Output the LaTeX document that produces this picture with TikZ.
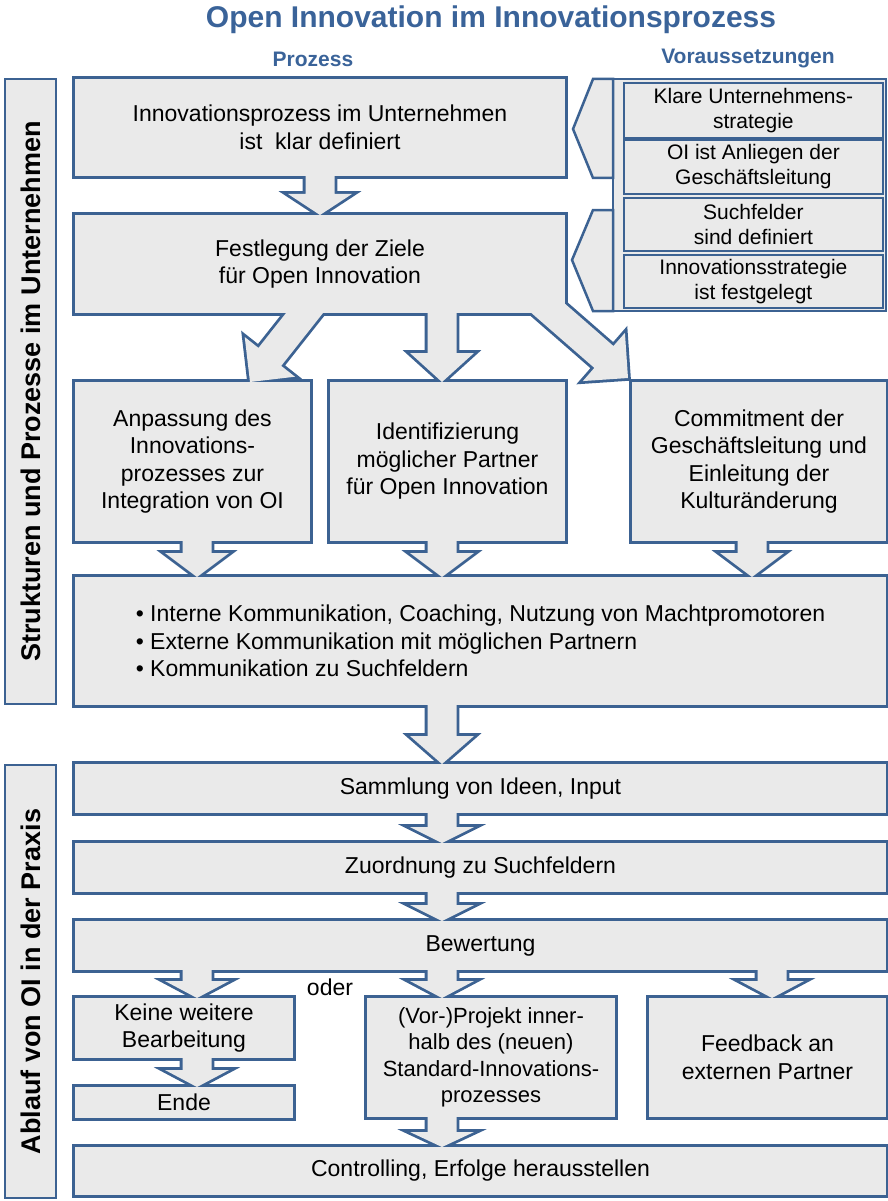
\documentclass[tikz,border=0pt]{standalone}
\usepackage{fontspec}
\setmainfont{Liberation Sans}
\usetikzlibrary{calc}
\pgfdeclarelayer{lines}
\pgfdeclarelayer{fills}
\pgfsetlayers{lines,fills,main}
\definecolor{oiblue}{RGB}{60,98,146}
\definecolor{oititle}{RGB}{58,99,153}
\definecolor{oigray}{RGB}{234,234,234}
\tikzset{
  outline/.style={draw=oiblue, line width=5.6pt, line join=miter},
  boxfill/.style={fill=oigray},
  stage/.style={anchor=north west, inner sep=0pt, outer sep=0pt, align=center,
    font=\fontsize{23}{27.5}\selectfont},
  sidebox/.style={draw=oiblue, fill=oigray, line width=2.8pt, inner sep=0pt, rotate=90,
    font=\bfseries\fontsize{27}{32}\selectfont},
  heading/.style={text=oititle, font=\bfseries\fontsize{21}{25}\selectfont},
  cond/.style={draw=oiblue, fill=oigray, line width=1.8pt, anchor=north west, inner sep=0pt,
    minimum width=259, align=center, font=\fontsize{21}{25}\selectfont},
  chevron/.style={draw=oiblue, fill=oigray, line width=2.5pt, line join=miter},
}
\newcommand{\stemw}{14.5pt}
\newcommand{\headw}{32pt}
% block arrow: name, start, tip, head length
\newcommand{\blockarrow}[4]{%
  \coordinate (#1s) at #2;
  \coordinate (#1t) at #3;
  \coordinate (#1h) at ($(#1t)!#4pt!(#1s)$);
  \def\arrowshape{($(#1s)!\stemw!90:(#1t)$) -- ($(#1h)!\stemw!90:(#1t)$)
    -- ($(#1h)!\headw!90:(#1t)$) -- (#1t) -- ($(#1h)!\headw!-90:(#1t)$)
    -- ($(#1h)!\stemw!-90:(#1t)$) -- ($(#1s)!\stemw!-90:(#1t)$) -- cycle}%
  \begin{pgfonlayer}{lines}\draw[outline] \arrowshape;\end{pgfonlayer}
  \begin{pgfonlayer}{fills}\fill[boxfill] \arrowshape;\end{pgfonlayer}
}
\begin{document}
\begin{tikzpicture}[x=1pt, y=-1pt]
\useasboundingbox (0,0) rectangle (888,1201);
% headings
\node[text=oititle, font=\bfseries\fontsize{30}{36}\selectfont] (title) at (491,20) {Open Innovation im Innovationsprozess};
\node[heading] (hproc) at (313,59) {Prozess};
\node[heading] (hcond) at (748,59) {Voraussetzungen};
% side labels
\node[sidebox, minimum width=625, minimum height=51] (side1) at (30.5,391.5) {Strukturen und Prozesse im Unternehmen};
\node[sidebox, minimum width=433, minimum height=51] (side2) at (30.5,981.5) {Ablauf von OI in der Praxis};
% process
\node[stage, minimum width=490, minimum height=97] (p1) at (75,79) {Innovationsprozess im Unternehmen\\ist\ \ klar definiert};
\node[stage, minimum width=490, minimum height=98] (p2) at (75,215) {Festlegung der Ziele\\für Open Innovation};
\node[stage, minimum width=235, minimum height=159] (r1) at (75,382) {Anpassung des\\Innovations-\\prozesses zur\\Integration von OI};
\node[stage, minimum width=235, minimum height=159] (r2) at (330,382) {Identifizierung\\möglicher Partner\\für Open Innovation};
\node[stage, minimum width=254, minimum height=159] (r3) at (632,382) {Commitment der\\Geschäftsleitung und\\Einleitung der\\Kulturänderung};
\node[stage, align=left, minimum width=811, minimum height=128] (b4) at (75,577) {• Interne Kommunikation, Coaching, Nutzung von Machtpromotoren\\• Externe Kommunikation mit möglichen Partnern\\• Kommunikation zu Suchfeldern};
% practice
\node[stage, minimum width=811, minimum height=49] (s1) at (75,764) {Sammlung von Ideen, Input};
\node[stage, minimum width=811, minimum height=49] (s2) at (75,843) {Zuordnung zu Suchfeldern};
\node[stage, minimum width=811, minimum height=49] (s3) at (75,921) {Bewertung};
\node[stage, minimum width=218, minimum height=60] (k1) at (75,998) {Keine weitere\\Bearbeitung};
\node[stage, minimum width=218, minimum height=31] (k2) at (75,1087) {Ende};
\node[stage, minimum width=248, minimum height=119, font=\fontsize{22}{26.5}\selectfont] (v1) at (367,998) {(Vor-)Projekt inner-\\halb des (neuen)\\Standard-Innovations-\\prozesses};
\node[stage, minimum width=237, minimum height=119] (fb) at (649,998) {Feedback an\\externen Partner};
\node[stage, minimum width=811, minimum height=48] (ctrl) at (75,1147) {Controlling, Erfolge herausstellen};
\node[font=\fontsize{23}{27.5}\selectfont] (oder) at (330,987) {oder};
% box outlines and fills
\begin{pgfonlayer}{lines}
  \foreach \n in {p1,p2,r1,r2,r3,b4,s1,s2,s3,k1,k2,v1,fb,ctrl}
    \draw[outline] (\n.north west) rectangle (\n.south east);
\end{pgfonlayer}
\begin{pgfonlayer}{fills}
  \foreach \n in {p1,p2,r1,r2,r3,b4,s1,s2,s3,k1,k2,v1,fb,ctrl}
    \fill[boxfill] (\n.north west) rectangle (\n.south east);
\end{pgfonlayer}
% arrows
\blockarrow{a1}{(p1.south)}{(p2.north)}{21}
\blockarrow{a2}{($(p2.south)+(-6,-12)$)}{($(r1.north east)+(-60,0)$)}{32}
\blockarrow{a3}{($(p2.south)+(122,0)$)}{($(r2.north)+(-5.5,0)$)}{29}
\blockarrow{a4}{($(p2.south east)+(-31,-17)$)}{($(r3.north west)+(-4,-4)$)}{32}
\blockarrow{a5}{($(r1.south)+(4.5,0)$)}{($(r1.south |- b4.north)+(4.5,0)$)}{24}
\blockarrow{a6}{($(r2.south)+(-5.5,0)$)}{($(r2.south |- b4.north)+(-5.5,0)$)}{24}
\blockarrow{a7}{($(r3.south)+(-7,0)$)}{($(r3.south |- b4.north)+(-7,0)$)}{24}
\blockarrow{a8}{($(b4.south)+(-38.5,0)$)}{($(b4.south |- s1.north)+(-38.5,0)$)}{28}
\blockarrow{a9}{($(s1.south)+(-38.5,0)$)}{($(s1.south |- s2.north)+(-38.5,0)$)}{16}
\blockarrow{a10}{($(s2.south)+(-38.5,0)$)}{($(s2.south |- s3.north)+(-38.5,0)$)}{16}
\blockarrow{a11}{($(k1.north |- s3.south)+(13,0)$)}{($(k1.north)+(13,0)$)}{17}
\blockarrow{a12}{($(v1.north |- s3.south)+(-49,0)$)}{($(v1.north)+(-49,0)$)}{17}
\blockarrow{a13}{($(fb.north |- s3.south)+(4.5,0)$)}{($(fb.north)+(4.5,0)$)}{17}
\blockarrow{a14}{($(k1.south)+(13,0)$)}{($(k2.north)+(13,0)$)}{17}
\blockarrow{a15}{($(v1.south)+(-49,0)$)}{($(v1.south |- ctrl.north)+(-49,0)$)}{15}
% preconditions
\node[draw=oiblue, fill=oigray, line width=2.5pt, anchor=north west, inner sep=0pt, outer sep=0pt,
  minimum width=273, minimum height=232] (frame) at (613,79) {};
\draw[chevron] (frame.north west) -- ++(-20,0) -- ++(-20,50) -- ++(20,49) -- ++(20,0) -- cycle;
\draw[chevron] ($(frame.north west)+(0,131)$) -- ++(-20,0) -- ++(-21,50) -- ++(21,51) -- (frame.south west) -- cycle;
\node[cond, minimum height=55] (c1) at (623,82) {Klare Unternehmens-\\strategie};
\node[cond, minimum height=54] (c2) at (623,139) {OI ist Anliegen der\\Geschäftsleitung};
\node[cond, minimum height=53] (c3) at (623,197) {Suchfelder\\sind definiert};
\node[cond, minimum height=53] (c4) at (623,254) {Innovationsstrategie\\ist festgelegt};
\end{tikzpicture}
\end{document}
